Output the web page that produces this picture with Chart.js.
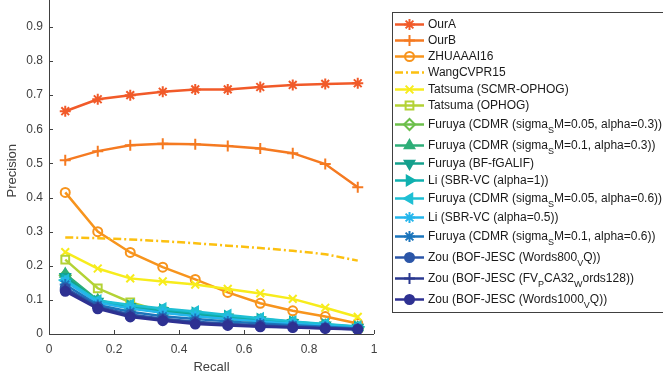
<!DOCTYPE html>
<html>
<head>
<meta charset="utf-8">
<script src="https://cdn.jsdelivr.net/npm/chart.js@4/dist/chart.umd.min.js"></script>
<style>
  html, body { margin: 0; padding: 0; background: #fff; }
  #wrap { width: 663px; height: 375px; position: relative; }
</style>
</head>
<body>
<div id="wrap"><canvas id="pr-chart"></canvas></div>
<script>
const FONT = '"Liberation Sans", Arial, Helvetica, sans-serif';
const TEXT_COLOR = '#404040';

const recall = [0.05, 0.15, 0.25, 0.35, 0.45, 0.55, 0.65, 0.75, 0.85, 0.95];
const yTicks = [0, 0.1, 0.2, 0.3, 0.4, 0.5, 0.6, 0.7, 0.8, 0.9];
const xTicks = [0, 0.2, 0.4, 0.6, 0.8, 1];

// series names, "_{x}" marks a subscript
const names = [
  'OurA',
  'OurB',
  'ZHUAAAI16',
  'WangCVPR15',
  'Tatsuma (SCMR-OPHOG)',
  'Tatsuma (OPHOG)',
  'Furuya (CDMR (sigma_{S}M=0.05, alpha=0.3))',
  'Furuya (CDMR (sigma_{S}M=0.1, alpha=0.3))',
  'Furuya (BF-fGALIF)',
  'Li (SBR-VC (alpha=1))',
  'Furuya (CDMR (sigma_{S}M=0.05, alpha=0.6))',
  'Li (SBR-VC (alpha=0.5))',
  'Furuya (CDMR (sigma_{S}M=0.1, alpha=0.6))',
  'Zou (BOF-JESC (Words800_{V}Q))',
  'Zou (BOF-JESC (FV_{P}CA32_{W}ords128))',
  'Zou (BOF-JESC (Words1000_{V}Q))'
];

const ourA      = [0.653, 0.688, 0.700, 0.710, 0.717, 0.717, 0.724, 0.730, 0.733, 0.735];
const ourB      = [0.509, 0.536, 0.553, 0.558, 0.556, 0.551, 0.544, 0.530, 0.498, 0.430];
const zhu       = [0.415, 0.300, 0.239, 0.196, 0.160, 0.122, 0.090, 0.068, 0.051, 0.031];
const wang      = [0.283, 0.281, 0.277, 0.272, 0.266, 0.259, 0.252, 0.244, 0.234, 0.215];
const tatsumaS  = [0.240, 0.192, 0.163, 0.154, 0.145, 0.132, 0.119, 0.103, 0.077, 0.050];
const tatsumaO  = [0.218, 0.134, 0.093, 0.066, 0.054, 0.045, 0.038, 0.031, 0.024, 0.017];
const furuyaD   = [0.172, 0.097, 0.077, 0.064, 0.054, 0.045, 0.038, 0.031, 0.024, 0.018];
const furuyaT   = [0.176, 0.099, 0.079, 0.066, 0.056, 0.047, 0.040, 0.032, 0.025, 0.019];
const furuyaBF  = [0.168, 0.095, 0.080, 0.068, 0.058, 0.049, 0.041, 0.033, 0.026, 0.019];
const li1       = [0.160, 0.096, 0.083, 0.072, 0.062, 0.053, 0.044, 0.036, 0.028, 0.021];
const furuyaL   = [0.158, 0.098, 0.085, 0.075, 0.066, 0.056, 0.046, 0.037, 0.029, 0.022];
const li05      = [0.155, 0.092, 0.075, 0.062, 0.052, 0.044, 0.037, 0.030, 0.024, 0.018];
const furuyaH   = [0.145, 0.085, 0.065, 0.052, 0.044, 0.037, 0.031, 0.026, 0.021, 0.016];
const zou800    = [0.135, 0.080, 0.057, 0.045, 0.036, 0.030, 0.026, 0.022, 0.018, 0.015];
const zouFV     = [0.130, 0.077, 0.053, 0.042, 0.032, 0.027, 0.023, 0.020, 0.017, 0.014];
const zou1000   = [0.125, 0.074, 0.050, 0.039, 0.029, 0.025, 0.021, 0.019, 0.016, 0.013];

const values = [ourA, ourB, zhu, wang, tatsumaS, tatsumaO, furuyaD, furuyaT, furuyaBF,
                li1, furuyaL, li05, furuyaH, zou800, zouFV, zou1000];

const colors = ['#f15a29', '#f57a21', '#f7941d', '#fcc010', '#f7ec1c', '#b3d235',
                '#6cbf4b', '#2eae78', '#15a08d', '#10b0af', '#1fbfd4', '#25b6ec',
                '#1b75bc', '#2b56a8', '#2b3990', '#2e3192'];
// [pointStyle, rotation, filled]
const markers = [
  ['star', 0, true], ['cross', 0, false], ['circle', 0, false], [false, 0, false],
  ['crossRot', 0, false], ['rect', 0, false], ['rectRot', 0, false], ['triangle', 0, true],
  ['triangle', 180, true], ['triangle', 90, true], ['triangle', -90, true], ['star', 0, true],
  ['star', 0, true], ['circle', 0, true], ['cross', 0, false], ['circle', 0, true]
];

const datasets = names.map((name, i) => ({
  label: name,
  data: values[i].map((v, j) => ({x: recall[j], y: v})),
  borderColor: colors[i],
  backgroundColor: markers[i][2] ? colors[i] : 'rgba(0,0,0,0)',
  borderWidth: 2.5,
  borderDash: i === 3 ? [8, 3, 2, 3] : [],
  pointStyle: markers[i][0],
  rotation: markers[i][1],
  pointRadius: markers[i][0] ? (markers[i][0] === 'circle' ? 4.5 : 5.5) : 0,
  pointBorderWidth: 2,
  order: -i,
  tension: 0
}));

// splits "abc_{S}def" into parts
function parseLabel(text) {
  const parts = [];
  const re = /_\{([^}]*)\}/g;
  let last = 0, m;
  while ((m = re.exec(text)) !== null) {
    if (m.index > last) parts.push({t: text.slice(last, m.index), sub: false});
    parts.push({t: m[1], sub: true});
    last = re.lastIndex;
  }
  if (last < text.length) parts.push({t: text.slice(last), sub: false});
  return parts;
}

const legendBox = {
  id: 'legendBox',
  afterDraw(chart) {
    const ctx = chart.ctx;
    const x0 = 392, y0 = 12, y1 = 312;
    ctx.save();
    ctx.fillStyle = '#fff';
    ctx.fillRect(x0, y0, 663 - x0 + 5, y1 - y0);
    ctx.strokeStyle = '#404040';
    ctx.lineWidth = 1;
    ctx.strokeRect(x0 + 0.5, y0 + 0.5, 663 - x0 + 5, y1 - y0);

    let y = 23.5;
    let prevSub = false;
    chart.data.datasets.forEach((ds, i) => {
      const hasSub = ds.label.indexOf('_{') >= 0;
      if (i > 0) y += (prevSub ? 21 : 16.3) / 2 + (hasSub ? 21 : 16.3) / 2;
      prevSub = hasSub;
      const ly = Math.round(y) + 0.5;

      ctx.strokeStyle = ds.borderColor;
      ctx.lineWidth = 2.5;
      ctx.setLineDash(ds.borderDash);
      ctx.beginPath();
      ctx.moveTo(395, ly);
      ctx.lineTo(424, ly);
      ctx.stroke();
      ctx.setLineDash([]);
      if (ds.pointStyle) {
        ctx.fillStyle = ds.backgroundColor;
        ctx.lineWidth = ds.pointBorderWidth;
        Chart.helpers.drawPoint(ctx, {
          pointStyle: ds.pointStyle, rotation: ds.rotation,
          radius: ds.pointRadius, borderWidth: ds.pointBorderWidth
        }, 409.5, ly);
      }

      let tx = 428;
      ctx.fillStyle = '#1a1a1a';
      ctx.textBaseline = 'middle';
      parseLabel(ds.label).forEach(p => {
        ctx.font = (p.sub ? '9px ' : '12px ') + FONT;
        ctx.fillText(p.t, tx, p.sub ? ly + 6 : ly);
        tx += ctx.measureText(p.t).width;
      });
    });
    ctx.restore();
  }
};

// MATLAB style inward ticks
const innerTicks = {
  id: 'innerTicks',
  afterDraw(chart) {
    const ctx = chart.ctx;
    const xs = chart.scales.x, ys = chart.scales.y;
    const area = chart.chartArea;
    ctx.save();
    ctx.strokeStyle = '#404040';
    ctx.lineWidth = 1;
    ctx.beginPath();
    ctx.moveTo(area.left + 0.5, 0);
    ctx.lineTo(area.left + 0.5, area.bottom + 0.5);
    ctx.lineTo(area.right, area.bottom + 0.5);
    yTicks.forEach(v => {
      const py = Math.round(ys.getPixelForValue(v)) + 0.5;
      ctx.moveTo(area.left, py);
      ctx.lineTo(area.left + 4, py);
    });
    xTicks.forEach(v => {
      const px = Math.round(xs.getPixelForValue(v)) + 0.5;
      ctx.moveTo(px, area.bottom);
      ctx.lineTo(px, area.bottom - 4);
    });
    ctx.stroke();
    ctx.restore();
  }
};

const fmt = v => String(Math.round(v * 10) / 10);

new Chart(document.getElementById('pr-chart'), {
  type: 'line',
  data: { datasets: datasets },
  plugins: [innerTicks, legendBox],
  options: {
    responsive: true,
    maintainAspectRatio: false,
    animation: false,
    events: [],
    layout: { padding: { left: 0, right: 289, top: 0, bottom: 0 } },
    plugins: { legend: { display: false }, tooltip: { enabled: false } },
    scales: {
      x: {
        type: 'linear',
        min: 0, max: 1,
        afterFit: s => { s.height = 41; s.paddingLeft = 0; s.paddingRight = 0; },
        afterBuildTicks: s => { s.ticks = xTicks.map(v => ({value: v})); },
        grid: { display: false, drawTicks: false },
        border: { display: false },
        ticks: { padding: 8, color: TEXT_COLOR, font: { family: FONT, size: 12 }, maxRotation: 0,
                 callback: fmt },
        title: { display: true, text: 'Recall', color: TEXT_COLOR, padding: { top: 2, bottom: 0 },
                 font: { family: FONT, size: 13 } }
      },
      y: {
        type: 'linear',
        min: 0, max: 0.957,
        afterFit: s => { s.width = 49; s.paddingTop = 0; s.paddingBottom = 0; },
        afterBuildTicks: s => { s.ticks = yTicks.map(v => ({value: v})); },
        grid: { display: false, drawTicks: false },
        border: { display: false },
        ticks: { padding: 6, color: TEXT_COLOR, font: { family: FONT, size: 12 }, callback: fmt },
        title: { display: true, text: 'Precision', color: TEXT_COLOR, padding: { top: 5, bottom: 0 },
                 font: { family: FONT, size: 13 } }
      }
    }
  }
});
</script>
</body>
</html>
